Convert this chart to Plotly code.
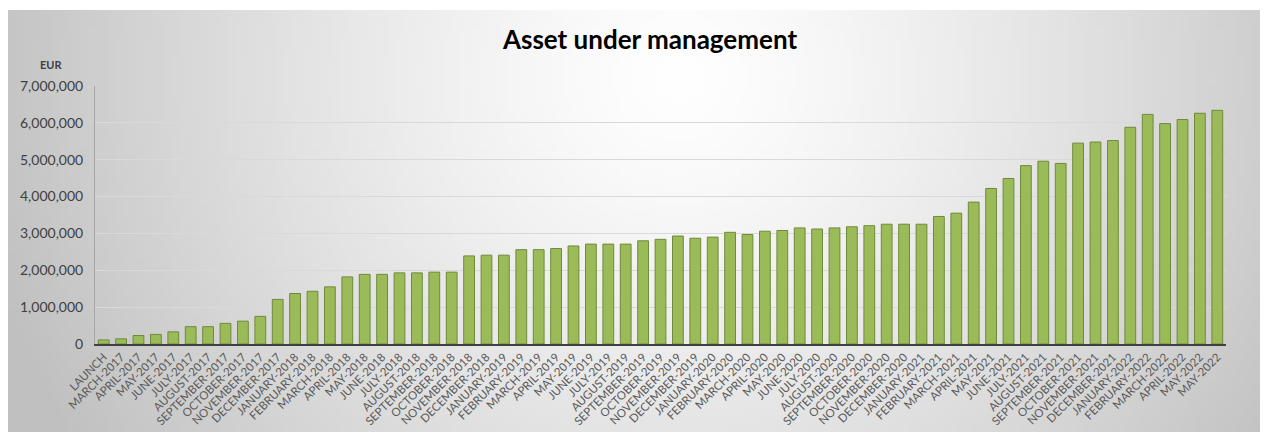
import base64, struct, zlib, math
import plotly.graph_objects as go

categories = ["LAUNCH",
    "MARCH-2017", "APRIL-2017", "MAY-2017", "JUNE-2017", "JULY-2017", "AUGUST-2017",
    "SEPTEMBER-2017", "OCTOBER-2017", "NOVEMBER-2017", "DECEMBER-2017",
    "JANUARY-2018", "FEBRUARY-2018", "MARCH-2018", "APRIL-2018", "MAY-2018", "JUNE-2018",
    "JULY-2018", "AUGUST-2018", "SEPTEMBER-2018", "OCTOBER-2018", "NOVEMBER-2018", "DECEMBER-2018",
    "JANUARY-2019", "FEBRUARY-2019", "MARCH-2019", "APRIL-2019", "MAY-2019", "JUNE-2019",
    "JULY-2019", "AUGUST-2019", "SEPTEMBER-2019", "OCTOBER-2019", "NOVEMBER-2019", "DECEMBER-2019",
    "JANUARY-2020", "FEBRUARY-2020", "MARCH-2020", "APRIL-2020", "MAY-2020", "JUNE-2020",
    "JULY-2020", "AUGUST-2020", "SEPTEMBER-2020", "OCTOBER-2020", "NOVEMBER-2020", "DECEMBER-2020",
    "JANUARY-2021", "FEBRUARY-2021", "MARCH-2021", "APRIL-2021", "MAY-2021", "JUNE-2021",
    "JULY-2021", "AUGUST-2021", "SEPTEMBER-2021", "OCTOBER-2021", "NOVEMBER-2021", "DECEMBER-2021",
    "JANUARY-2022", "FEBRUARY-2022", "MARCH-2022", "APRIL-2022", "MAY-2022", "MAY-2022"]

aum_eur = [110000,
    140000, 230000, 260000, 330000, 470000, 470000, 560000, 620000, 750000, 1210000,
    1370000, 1430000, 1550000, 1820000, 1890000, 1890000, 1930000, 1930000, 1950000, 1950000, 2390000, 2410000,
    2410000, 2560000, 2560000, 2590000, 2660000, 2710000, 2710000, 2710000, 2800000, 2840000, 2930000, 2870000,
    2900000, 3030000, 2970000, 3060000, 3080000, 3150000, 3120000, 3150000, 3180000, 3210000, 3250000, 3250000,
    3250000, 3460000, 3550000, 3850000, 4220000, 4490000, 4840000, 4960000, 4900000, 5450000, 5480000, 5520000,
    5880000, 6230000, 5980000, 6090000, 6260000, 6340000]

y_ticks = [0, 1000000, 2000000, 3000000, 4000000, 5000000, 6000000, 7000000]

# page has an 8px body margin; figure coordinates = screenshot coordinates - 8
OFF = 8
W, H = 1268 - OFF, 432 - OFF
L = 95 - OFF
R = W - (1226 - OFF)
T = 86 - OFF
B = H - (344 - OFF)


def gradient_png(w, h):
    cx, cy = 0.53 * w, 0.15 * h
    rx, ry = 0.55 * w, 1.6 * h
    rows = []
    for j in range(h):
        row = bytearray([0])
        for i in range(w):
            d = math.sqrt(((i - cx) / rx) ** 2 + ((j - cy) / ry) ** 2)
            v = int(max(192, 255 - 60 * min(d, 1.4) ** 1.3))
            row += bytes([v, v, v])
        rows.append(bytes(row))
    raw = b"".join(rows)

    def chunk(tag, data):
        c = struct.pack(">I", len(data)) + tag + data
        return c + struct.pack(">I", zlib.crc32(tag + data) & 0xffffffff)

    png = b"\x89PNG\r\n\x1a\n" + chunk(b"IHDR", struct.pack(">IIBBBBB", w, h, 8, 2, 0, 0, 0)) \
        + chunk(b"IDAT", zlib.compress(raw, 9)) + chunk(b"IEND", b"")
    return "data:image/png;base64," + base64.b64encode(png).decode()


x_pos = list(range(len(categories)))

fig = go.Figure()
fig.add_trace(go.Bar(
    x=x_pos, y=aum_eur,
    marker=dict(color="#9bbb59", line=dict(color="#6f8a3a", width=1)),
    width=0.62,
    hovertext=categories,
))

pw = W - L - R
ph = H - T - B
img_top = 10 - OFF
fig.add_layout_image(dict(
    source=gradient_png(180, 60),
    xref="paper", yref="paper",
    x=-L / pw, y=1 + (T - img_top) / ph,
    sizex=W / pw, sizey=(H - img_top) / ph,
    sizing="stretch", layer="below", xanchor="left", yanchor="top",
))

fig.update_layout(
    width=W, height=H,
    margin=dict(l=L, r=R, t=T, b=B, autoexpand=False),
    paper_bgcolor="white",
    plot_bgcolor="rgba(0,0,0,0)",
    showlegend=False,
    font=dict(family="Lato, 'Open Sans', sans-serif", color="#595959"),
    title=dict(text="<b>Asset under management</b>", x=(650 - OFF) / W, xref="container",
               xanchor="center", y=1 - (40 - OFF) / H, yanchor="middle",
               font=dict(size=26, color="#000000", family="Lato, sans-serif")),
    xaxis=dict(
        range=[-0.5, len(categories) - 0.5],
        tickmode="array", tickvals=x_pos, ticktext=categories,
        tickangle=-45, tickfont=dict(size=11.5, color="#595959"),
        showgrid=False, zeroline=False, automargin=False,
        showline=True, linecolor="#404040", linewidth=2,
        ticks="",
    ),
    yaxis=dict(
        range=[0, 7000000],
        tickmode="array", tickvals=y_ticks, tickformat=",",
        tickfont=dict(size=14, color="#404040"),
        showgrid=True, gridcolor="#d9d9d9", gridwidth=1,
        zeroline=False, automargin=False,
        showline=True, linecolor="#a6a6a6", linewidth=1,
        ticks="", ticklabelstandoff=8,
    ),
    annotations=[dict(
        text="<b>EUR</b>", xref="paper", yref="paper",
        x=-(L - (51 - OFF)) / pw, y=1 + (T - (64 - OFF)) / ph, xanchor="center", yanchor="middle",
        showarrow=False, font=dict(size=11, color="#404040"),
    )],
)

fig.write_html("out.html")
